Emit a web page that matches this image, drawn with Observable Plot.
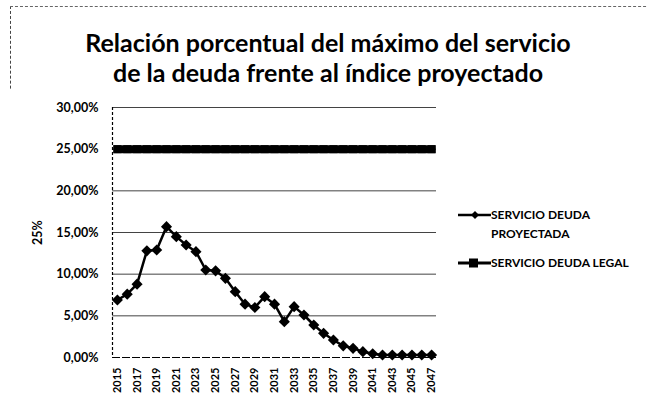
<!DOCTYPE html>
<html>
<head>
<meta charset="utf-8">
<script src="https://cdn.jsdelivr.net/npm/d3@7"></script>
<script src="https://cdn.jsdelivr.net/npm/@observablehq/plot@0.6"></script>
<style>
  html, body { margin: 0; padding: 0; background: #fff; }
  #wrap { position: relative; width: 648px; height: 405px; overflow: hidden; font-family: Lato, "Open Sans", sans-serif; }
  #border { position: absolute; left: 10px; top: 6px; width: 660px; height: 420px; border-left: 1px dashed #444; border-top: 1px dashed #666; }
  #title { position: absolute; left: 0; top: 27px; width: 656px; text-align: center; font-weight: 700; font-size: 25px; line-height: 30px; color: #000; }
  #chart { position: absolute; left: 0; top: 90px; }
  #legend { position: absolute; left: 458px; top: 205px; font-size: 12px; font-weight: 700; color: #000; }
  .row { display: flex; align-items: flex-start; }
  .row svg { flex: none; margin-top: 1px; }
  .row span { line-height: 19px; }
</style>
</head>
<body>
<div id="wrap">
  <div id="border"></div>
  <div id="title">Relación porcentual del máximo del servicio<br>de la deuda frente al índice proyectado</div>
  <div id="chart"></div>
  <div id="legend">
    <div class="row" style="height:48px">
      <svg width="33" height="18"><line x1="0" y1="9" x2="33" y2="9" stroke="#000" stroke-width="2.5"/><path d="M13,9 L17,5 L21,9 L17,13 Z" fill="#000"/></svg>
      <span>SERVICIO DEUDA<br>PROYECTADA</span>
    </div>
    <div class="row">
      <svg width="33" height="18"><line x1="0" y1="9" x2="33" y2="9" stroke="#000" stroke-width="3"/><rect x="11" y="4.5" width="9" height="9" fill="#000"/></svg>
      <span>SERVICIO DEUDA LEGAL</span>
    </div>
  </div>
</div>
<script>
const years = [2015, 2016, 2017, 2018, 2019, 2020, 2021, 2022, 2023, 2024, 2025,
  2026, 2027, 2028, 2029, 2030, 2031, 2032, 2033, 2034, 2035, 2036, 2037, 2038,
  2039, 2040, 2041, 2042, 2043, 2044, 2045, 2046, 2047];
const servicioProyectada = [6.9, 7.6, 8.8, 12.8, 12.9, 15.7, 14.5, 13.5, 12.7, 10.5, 10.4,
  9.5, 7.9, 6.4, 6.0, 7.3, 6.4, 4.3, 6.1, 5.1, 3.9, 2.9, 2.1, 1.4,
  1.1, 0.7, 0.45, 0.3, 0.3, 0.3, 0.3, 0.3, 0.3];
const servicioLegal = [25, 25, 25, 25, 25, 25, 25, 25, 25, 25, 25,
  25, 25, 25, 25, 25, 25, 25, 25, 25, 25, 25, 25, 25,
  25, 25, 25, 25, 25, 25, 25, 25, 25];
const yTicks = [0, 5, 10, 15, 20, 25, 30];
const xTickLabels = [2015, 2017, 2019, 2021, 2023, 2025, 2027, 2029, 2031, 2033,
  2035, 2037, 2039, 2041, 2043, 2045, 2047];

const proy = years.map((y, i) => ({year: y, value: servicioProyectada[i] / 100}));
const legal = years.map((y, i) => ({year: y, value: servicioLegal[i] / 100}));
const fmt = d => (d * 100).toFixed(2).replace(".", ",") + "%";

const chart = Plot.plot({
  width: 648,
  height: 315,
  marginLeft: 112,
  marginRight: 212,
  marginTop: 17,
  marginBottom: 48,
  style: {fontFamily: "Lato, 'Open Sans', sans-serif", fontWeight: 700, color: "#000", background: "#fff"},
  x: {type: "point", domain: years, padding: 0.5, round: false},
  y: {domain: [0, 0.30]},
  marks: [
    Plot.gridY(yTicks.filter(t => t > 0).map(t => t / 100), {stroke: "#222", strokeOpacity: 0.85, strokeWidth: 1}),
    Plot.ruleY([0], {stroke: "#000", strokeWidth: 1.2, strokeDasharray: "8,2"}),
    Plot.frame({anchor: "left", stroke: "#000", strokeDasharray: "2,3", strokeWidth: 1.2}),
    Plot.axisY(yTicks.map(t => t / 100), {
      tickFormat: fmt, tickSize: 0, tickPadding: 14, fontSize: 12.5,
      label: "25%", labelAnchor: "center", labelArrow: "none", labelOffset: 79
    }),
    Plot.axisX(xTickLabels, {tickRotate: -90, tickSize: 0, tickPadding: 10, fontSize: 11, tickFormat: d => String(d), label: null}),
    Plot.line(legal, {x: "year", y: "value", stroke: "#000", strokeWidth: 8, strokeLinecap: "square"}),
    Plot.dot(legal, {x: "year", y: "value", symbol: "square", r: 4.5, fill: "#000", stroke: "none"}),
    Plot.line(proy, {x: "year", y: "value", stroke: "#000", strokeWidth: 2.5}),
    Plot.dot(proy, {x: "year", y: "value", symbol: "diamond2", r: 5, fill: "#000", stroke: "none"})
  ]
});
document.getElementById("chart").appendChild(chart);
</script>
</body>
</html>
